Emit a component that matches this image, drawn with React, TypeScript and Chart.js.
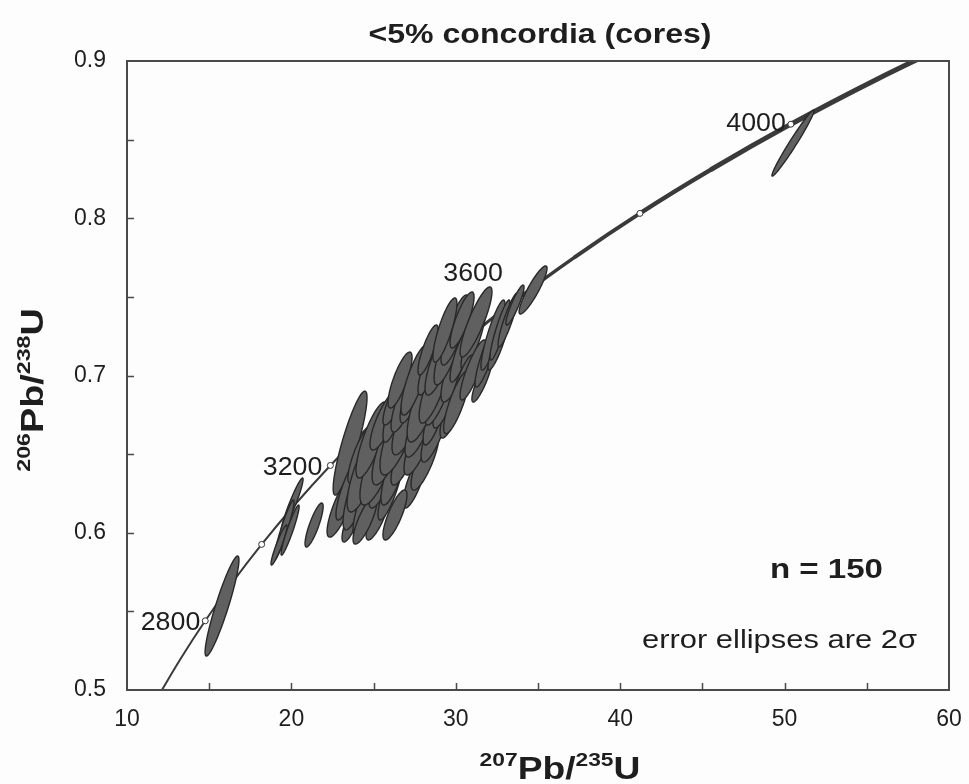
import React, { useEffect, useRef } from 'react';
import { Chart, registerables } from 'chart.js';

Chart.register(...registerables);

// ---- Axis ticks ----
const X_TICKS = [10, 20, 30, 40, 50, 60];
const X_TICK_LABELS = ['10', '20', '30', '40', '50', '60'];
const Y_TICKS = [0.5, 0.6, 0.7, 0.8, 0.9];
const Y_TICK_LABELS = ['0.5', '0.6', '0.7', '0.8', '0.9'];
const X_TICK_MARKS = [15, 20, 25, 30, 35, 40, 45, 50, 55];
const Y_TICK_MARKS = [0.55, 0.6, 0.65, 0.7, 0.75, 0.8, 0.85];

// ---- Concordia curve (age in Ma, 207Pb/235U, 206Pb/238U) ----
const CONCORDIA_AGE = [2600, 2700, 2800, 2900, 3000, 3100, 3200, 3300, 3400, 3500, 3600, 3700, 3800, 3900, 4000, 4100, 4200];
const CONCORDIA_X = [11.94, 13.28, 14.76, 16.39, 18.19, 20.18, 22.37, 24.79, 27.46, 30.40, 33.65, 37.24, 41.20, 45.57, 50.38, 55.71, 61.57];
const CONCORDIA_Y = [0.4968, 0.5202, 0.5440, 0.5681, 0.5926, 0.6175, 0.6428, 0.6685, 0.6946, 0.7211, 0.7480, 0.7753, 0.8031, 0.8312, 0.8598, 0.8889, 0.9185];

const MARKER_AGES = [2800, 3000, 3200, 3400, 3600, 3800, 4000];
const LABEL_AGES = [2800, 3200, 3600, 4000];
const LABEL_TEXTS = ['2800', '3200', '3600', '4000'];

// ---- Error ellipses (centre, half-extent in x and y, correlation) ----
const ELL_X = [15.78, 20.04, 19.55, 19.25, 19.92, 21.38, 23.57, 23.08, 23.44, 23.69, 24.05, 24.78, 25.27, 24.48, 24.17, 24.48, 25.57, 26.00, 25.39, 26.30, 27.52, 24.90, 26.00, 26.91, 28.13, 25.69, 26.61, 27.82, 28.74, 26.30, 27.21, 27.82, 29.77, 26.30, 26.91, 26.61, 27.34, 28.74, 28.13, 29.34, 29.04, 27.52, 28.74, 28.43, 29.95, 29.04, 28.31, 29.65, 30.38, 29.95, 29.34, 30.38, 31.05, 26.30, 30.38, 30.05, 31.23, 31.05, 31.59, 31.90, 32.26, 32.57, 32.69, 33.18, 33.60, 34.70, 50.51];
const ELL_Y = [0.5534, 0.6176, 0.6017, 0.5922, 0.6017, 0.6049, 0.6570, 0.6176, 0.6272, 0.6081, 0.6272, 0.6208, 0.6113, 0.6081, 0.6494, 0.6399, 0.6348, 0.6272, 0.6462, 0.6399, 0.6335, 0.6590, 0.6558, 0.6494, 0.6462, 0.6717, 0.6653, 0.6590, 0.6653, 0.6780, 0.6749, 0.6685, 0.6780, 0.6844, 0.6844, 0.6971, 0.6876, 0.6749, 0.6844, 0.6844, 0.6908, 0.6971, 0.6939, 0.7067, 0.7035, 0.7098, 0.7162, 0.7194, 0.7149, 0.7289, 0.7289, 0.7353, 0.7226, 0.6113, 0.6939, 0.6830, 0.7340, 0.7035, 0.6971, 0.7130, 0.7257, 0.7194, 0.7289, 0.7353, 0.7448, 0.7544, 0.8478];
const ELL_SX = [1.03, 0.67, 0.61, 0.49, 0.55, 0.55, 1.03, 0.91, 0.73, 0.61, 0.91, 1.03, 0.73, 0.73, 0.73, 1.09, 0.85, 0.73, 1.22, 0.85, 0.73, 0.97, 1.09, 0.85, 0.85, 0.91, 1.22, 0.97, 0.85, 0.73, 1.09, 0.91, 0.73, 0.73, 0.85, 0.73, 0.73, 0.73, 1.09, 0.73, 0.91, 0.85, 0.97, 0.73, 0.85, 0.91, 0.61, 0.97, 0.73, 0.85, 0.73, 0.73, 0.73, 0.73, 0.73, 0.79, 0.97, 0.79, 0.61, 0.73, 0.73, 0.61, 0.61, 0.61, 0.55, 0.85, 1.28];
const ELL_SY = [0.0318, 0.0172, 0.0191, 0.0127, 0.0159, 0.0140, 0.0331, 0.0204, 0.0191, 0.0140, 0.0254, 0.0242, 0.0159, 0.0153, 0.0178, 0.0267, 0.0191, 0.0191, 0.0286, 0.0223, 0.0178, 0.0242, 0.0254, 0.0191, 0.0191, 0.0191, 0.0286, 0.0223, 0.0204, 0.0204, 0.0254, 0.0204, 0.0178, 0.0159, 0.0204, 0.0178, 0.0178, 0.0191, 0.0267, 0.0178, 0.0223, 0.0223, 0.0242, 0.0191, 0.0204, 0.0223, 0.0159, 0.0254, 0.0191, 0.0223, 0.0204, 0.0178, 0.0191, 0.0159, 0.0191, 0.0200, 0.0223, 0.0191, 0.0140, 0.0204, 0.0223, 0.0159, 0.0191, 0.0172, 0.0127, 0.0153, 0.0210];
const ELL_RHO = [0.92, 0.95, 0.94, 0.93, 0.94, 0.84, 0.87,
  0.82, 0.82, 0.8, 0.8, 0.78, 0.8, 0.8, 0.82, 0.78, 0.8,
  0.82, 0.78, 0.8, 0.8, 0.8, 0.78, 0.8, 0.8, 0.8, 0.78,
  0.8, 0.8, 0.8, 0.8, 0.78, 0.8, 0.82, 0.8, 0.8, 0.8,
  0.8, 0.78, 0.8, 0.82, 0.8, 0.8, 0.82, 0.78, 0.8, 0.82,
  0.82, 0.84, 0.82, 0.82, 0.82, 0.84,
  0.8, 0.84, 0.82,
  0.86, 0.85, 0.86, 0.88, 0.88, 0.88, 0.9, 0.9, 0.9, 0.9, 0.98];

const TITLE = '<5% concordia (cores)';
const N_TEXT = 'n = 150';
const ERR_TEXT = 'error ellipses are 2σ';

const FONT = '"Liberation Sans", Arial, Helvetica, sans-serif';

function drawStretched(ctx: CanvasRenderingContext2D, text: string, x: number, y: number, font: string, align: 'left' | 'center' | 'right', targetWidth: number | null, stretch = 1) {
  ctx.save();
  ctx.font = font;
  ctx.textBaseline = 'alphabetic';
  ctx.textAlign = 'left';
  const w0 = ctx.measureText(text).width;
  const s = targetWidth ? targetWidth / w0 : stretch;
  const w = w0 * s;
  let left = x;
  if (align === 'center') left = x - w / 2;
  if (align === 'right') left = x - w;
  ctx.translate(left, y);
  ctx.scale(s, 1);
  ctx.fillText(text, 0, 0);
  ctx.restore();
}

type Part = { t: string; sup: boolean };
function drawRatioTitle(ctx: CanvasRenderingContext2D, parts: Part[], cx: number, baseY: number, stretch: number) {
  const mainFont = `bold 31px ${FONT}`;
  const supFont = `bold 19px ${FONT}`;
  let total = 0;
  const widths = parts.map((p) => {
    ctx.font = p.sup ? supFont : mainFont;
    const w = ctx.measureText(p.t).width;
    total += w;
    return w;
  });
  ctx.save();
  ctx.translate(cx - (total * stretch) / 2, baseY);
  ctx.scale(stretch, 1);
  ctx.textAlign = 'left';
  ctx.textBaseline = 'alphabetic';
  let x = 0;
  parts.forEach((p, i) => {
    ctx.font = p.sup ? supFont : mainFont;
    ctx.fillText(p.t, x, p.sup ? -13 : 0);
    x += widths[i];
  });
  ctx.restore();
}

// concordia line gets gradually thicker with age
function lineWidthFor(x0: number, x1: number) {
  const x = (x0 + x1) / 2;
  return Math.max(2, Math.min(5, 2 + (x - 22) * 0.11));
}

const overlayPlugin = {
  id: 'concordiaOverlay',
  afterDatasetsDraw(chart: any) {
    const { ctx, chartArea } = chart;
    const xs = chart.scales.x;
    const ys = chart.scales.y;
    ctx.save();
    ctx.beginPath();
    ctx.rect(chartArea.left, chartArea.top, chartArea.right - chartArea.left, chartArea.bottom - chartArea.top);
    ctx.clip();
    for (let i = 0; i < ELL_X.length; i++) {
      const r = ELL_RHO[i];
      const q = Math.sqrt(1 - r * r);
      ctx.beginPath();
      const N = 90;
      for (let k = 0; k <= N; k++) {
        const th = (k / N) * Math.PI * 2;
        const dx = ELL_SX[i] * Math.cos(th);
        const dy = ELL_SY[i] * (r * Math.cos(th) + q * Math.sin(th));
        const px = xs.getPixelForValue(ELL_X[i] + dx);
        const py = ys.getPixelForValue(ELL_Y[i] + dy);
        if (k === 0) ctx.moveTo(px, py);
        else ctx.lineTo(px, py);
      }
      ctx.closePath();
      ctx.fillStyle = '#606060';
      ctx.fill();
      ctx.lineWidth = 1.4;
      ctx.strokeStyle = '#282828';
      ctx.stroke();
    }
    ctx.restore();

    ctx.save();
    ctx.fillStyle = '#1e1e1e';
    const offsets: Record<string, [number, number]> = {
      '2800': [-5, 9],
      '3200': [-8, 10],
      '3600': [-13, -19],
      '4000': [-5, 7],
    };
    LABEL_AGES.forEach((age, i) => {
      const idx = CONCORDIA_AGE.indexOf(age);
      const px = xs.getPixelForValue(CONCORDIA_X[idx]);
      const py = ys.getPixelForValue(CONCORDIA_Y[idx]);
      const off = offsets[LABEL_TEXTS[i]];
      drawStretched(ctx, LABEL_TEXTS[i], px + off[0], py + off[1], `25px ${FONT}`, 'right', null, 1.07);
    });
    ctx.restore();
  },
  afterDraw(chart: any) {
    const { ctx, chartArea } = chart;
    const xs = chart.scales.x;
    const ys = chart.scales.y;
    ctx.save();
    ctx.strokeStyle = '#4a4a4a';
    ctx.lineWidth = 2;
    ctx.strokeRect(chartArea.left, chartArea.top, chartArea.right - chartArea.left, chartArea.bottom - chartArea.top);
    ctx.lineWidth = 1.5;
    ctx.beginPath();
    X_TICK_MARKS.forEach((v) => {
      const px = Math.round(xs.getPixelForValue(v)) + 0.5;
      ctx.moveTo(px, chartArea.bottom);
      ctx.lineTo(px, chartArea.bottom - 7);
    });
    Y_TICK_MARKS.forEach((v) => {
      const py = Math.round(ys.getPixelForValue(v)) + 0.5;
      ctx.moveTo(chartArea.left, py);
      ctx.lineTo(chartArea.left + 7, py);
    });
    ctx.stroke();

    ctx.fillStyle = '#1e1e1e';
    const cx = (chartArea.left + chartArea.right) / 2;
    drawStretched(ctx, TITLE, cx + 2, 43, `bold 28px ${FONT}`, 'center', 343);
    drawStretched(ctx, N_TEXT, 883, 578, `bold 28px ${FONT}`, 'right', 113);
    drawStretched(ctx, ERR_TEXT, 917, 648, `25px ${FONT}`, 'right', 275);

    drawRatioTitle(ctx, [
      { t: '207', sup: true },
      { t: 'Pb/', sup: false },
      { t: '235', sup: true },
      { t: 'U', sup: false },
    ], 560, 779, 1.2);

    ctx.save();
    ctx.translate(43, 390);
    ctx.rotate(-Math.PI / 2);
    drawRatioTitle(ctx, [
      { t: '206', sup: true },
      { t: 'Pb/', sup: false },
      { t: '238', sup: true },
      { t: 'U', sup: false },
    ], 0, 0, 1.22);
    ctx.restore();
    ctx.restore();
  },
};

export default function App() {
  const canvasRef = useRef<HTMLCanvasElement | null>(null);

  useEffect(() => {
    if (!canvasRef.current) return;
    const curve = CONCORDIA_X.map((x, i) => ({ x, y: CONCORDIA_Y[i] }));
    const markers = MARKER_AGES.map((age) => {
      const i = CONCORDIA_AGE.indexOf(age);
      return { x: CONCORDIA_X[i], y: CONCORDIA_Y[i] };
    });

    const chart = new Chart(canvasRef.current, {
      type: 'scatter',
      data: {
        datasets: [
          {
            type: 'line',
            data: curve,
            borderColor: '#3a3a3a',
            borderWidth: 2,
            pointRadius: 0,
            fill: false,
            cubicInterpolationMode: 'monotone',
            borderCapStyle: 'round',
            borderJoinStyle: 'round',
            segment: {
              borderWidth: (ctx: any) => lineWidthFor(ctx.p0.parsed.x, ctx.p1.parsed.x),
            },
            order: 2,
          } as any,
          {
            type: 'scatter',
            data: markers,
            pointRadius: 3,
            backgroundColor: '#ffffff',
            borderColor: '#333333',
            borderWidth: 1,
            order: 1,
          } as any,
        ],
      },
      options: {
        responsive: false,
        animation: false,
        layout: { padding: { top: 61, right: 20, left: 0, bottom: 0 } },
        plugins: {
          legend: { display: false },
          tooltip: { enabled: false },
          title: { display: false },
        },
        scales: {
          x: {
            type: 'linear',
            min: 10,
            max: 60,
            afterBuildTicks: (s: any) => {
              s.ticks = X_TICKS.map((v) => ({ value: v }));
            },
            afterFit: (s: any) => {
              s.height = 94;
              s.paddingLeft = 0;
              s.paddingRight = 0;
            },
            grid: { display: false },
            border: { display: false },
            ticks: {
              color: '#1e1e1e',
              font: { family: FONT, size: 23 },
              padding: 8,
              maxRotation: 0,
              callback: (v: any) => {
                const i = X_TICKS.indexOf(Number(v));
                return i >= 0 ? X_TICK_LABELS[i] : '';
              },
            },
          },
          y: {
            type: 'linear',
            min: 0.5,
            max: 0.9,
            afterBuildTicks: (s: any) => {
              s.ticks = Y_TICKS.map((v) => ({ value: v }));
            },
            afterFit: (s: any) => {
              s.width = 127;
              s.paddingTop = 0;
              s.paddingBottom = 0;
            },
            grid: { display: false },
            border: { display: false },
            ticks: {
              color: '#1e1e1e',
              font: { family: FONT, size: 23 },
              padding: 13,
              callback: (v: any) => {
                const i = Y_TICKS.findIndex((t) => Math.abs(t - Number(v)) < 1e-9);
                return i >= 0 ? Y_TICK_LABELS[i] : '';
              },
            },
          },
        },
      } as any,
      plugins: [overlayPlugin],
    });

    return () => chart.destroy();
  }, []);

  return (
    <div style={{ position: 'absolute', left: 0, top: 0, width: 969, height: 784, background: '#fdfdfd' }}>
      <canvas ref={canvasRef} width={969} height={784} style={{ display: 'block' }} />
    </div>
  );
}
